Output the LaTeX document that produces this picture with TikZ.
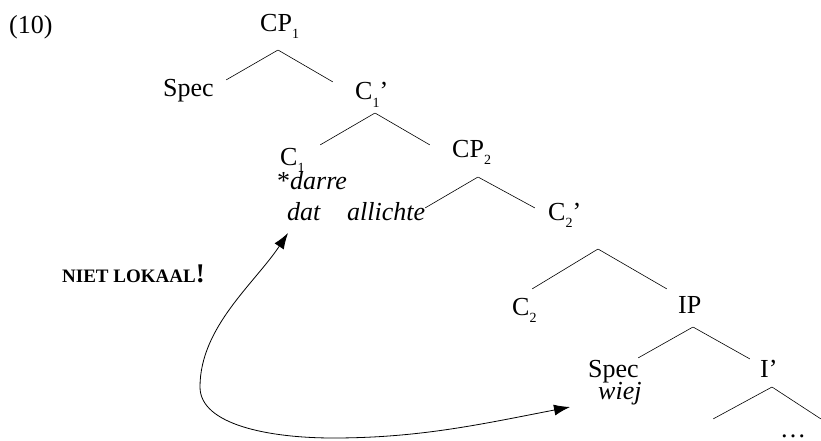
\documentclass[tikz,border=0pt]{standalone}
\usepackage{fontspec}
\setmainfont{Liberation Serif}
\usetikzlibrary{arrows.meta}
\newcommand{\sbs}[1]{\raisebox{-7pt}{\fontsize{14}{14}\selectfont #1}}

\begin{document}
\begin{tikzpicture}[x=1pt,y=-1pt,font=\fontsize{26}{28}\selectfont,
    lbl/.style={anchor=base west,inner sep=0pt},
    pt/.style={inner sep=0pt,minimum size=0pt}]
    \useasboundingbox (0,0) rectangle (821,441);

      \node (ex) at (9,34) [lbl] {(10)};
      \node (CPone) at (260,32) [lbl] {CP\sbs{1}};
      \node (SpecA) at (163,97) [lbl] {Spec};
      \node (Cbarone) at (355,100) [lbl] {C\sbs{1}’};
      \node (Cone) at (280,165) [lbl] {C\sbs{1}};
      \node (darre) at (277,189) [lbl] {*\textit{darre}};
      \node (dat) at (287,220) [lbl] {\textit{dat}};
      \node (allichte) at (347,220) [lbl] {\textit{allichte}};
      \node (CPtwo) at (452,157) [lbl] {CP\sbs{2}};
      \node (Cbartwo) at (548,220) [lbl] {C\sbs{2}’};
      \node (Ctwo) at (512,315) [lbl] {C\sbs{2}};
      \node (IP) at (678,313) [lbl] {IP};
      \node (SpecB) at (588,377) [lbl] {Spec};
      \node (wiej) at (598,399) [lbl] {\textit{wiej}};
      \node (Ibar) at (760,377) [lbl] {I’};
      \node (dots) at (780,437) [lbl] {\dots};
      \node (niet) at (62,282) [lbl] {\bfseries\fontsize{19}{19}\selectfont NIET LOKAAL\fontsize{27}{27}\selectfont!};

      % branch points
      \node (topCP1) at (278,50) [pt] {};
      \node (lCP1) at (226,80) [pt] {};
      \node (rCP1) at (333,82) [pt] {};
      \node (topC1) at (375,113) [pt] {};
      \node (lC1) at (320,145) [pt] {};
      \node (rC1) at (430,145) [pt] {};
      \node (topCP2) at (478,177) [pt] {};
      \node (lCP2) at (425,208) [pt] {};
      \node (rCP2) at (535,208) [pt] {};
      \node (topC2) at (598,249) [pt] {};
      \node (lC2) at (532,289) [pt] {};
      \node (rC2) at (667,289) [pt] {};
      \node (topIP) at (693,327) [pt] {};
      \node (lIP) at (638,358) [pt] {};
      \node (rIP) at (750,359) [pt] {};
      \node (topI) at (772,387) [pt] {};
      \node (lI) at (713,419) [pt] {};
      \node (rI) at (821,419) [pt] {};

    \draw[line width=0.6pt]
    (lCP1) -- (topCP1) -- (rCP1)
    (lC1) -- (topC1) -- (rC1)
    (lCP2) -- (topCP2) -- (rCP2)
    (lC2) -- (topC2) -- (rC2)
    (lIP) -- (topIP) -- (rIP)
    (lI) -- (topI) -- (rI) -- cycle;

      % movement
      \coordinate (mvtop) at (288,233);
      \coordinate (mvbot) at (570,407);
    \draw[line width=0.8pt,{Latex[length=16pt,width=11pt]}-{Latex[length=16pt,width=11pt]}]
    (mvtop) .. controls (255,283) and (200,327) .. (200,387)
    .. controls (200,425) and (270,438) .. (333,438)
    .. controls (420,438) and (482,424) .. (mvbot);
  \end{tikzpicture}
\end{document}
